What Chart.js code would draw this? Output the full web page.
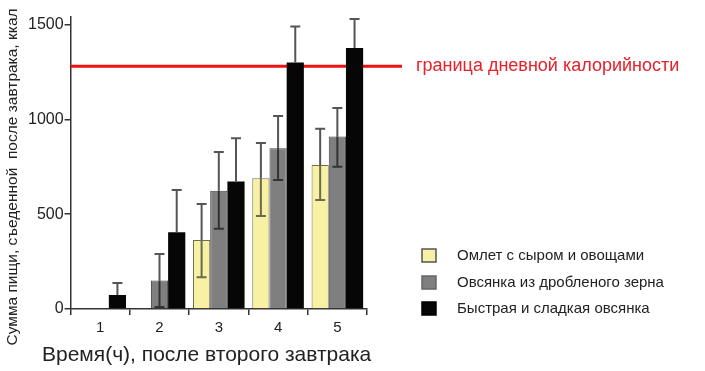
<!DOCTYPE html>
<html>
<head>
<meta charset="utf-8">
<script src="https://cdn.jsdelivr.net/npm/chart.js@4/dist/chart.umd.min.js"></script>
<style>
  body { margin: 0; background: #fff; }
  #wrap { width: 705px; height: 371px; }
</style>
</head>
<body>
<div id="wrap"><canvas id="myChart"></canvas></div>
<script>
// данные с картинки
const hours = ["1", "2", "3", "4", "5"];
const seriesNames = ["Омлет с сыром и овощами", "Овсянка из дробленого зерна", "Быстрая и сладкая овсянка"];

const omelet = [null, null, 364, 690, 760];
const oatsCoarse = [0, 150, 623, 848, 910];
const oatsSweet = [74, 405, 672, 1300, 1376];

// верх и низ планок погрешности
const omeletHigh = [null, null, 554, 875, 950];
const omeletLow = [null, null, 168, 490, 575];
const coarseHigh = [null, 290, 828, 1018, 1060];
const coarseLow = [null, 10, 423, 680, 750];
const sweetHigh = [137, 628, 900, 1490, 1530];
const sweetLow = [null, null, null, null, null];

const yTicks = [0, 500, 1000, 1500];
const dailyLimit = 1280;
const limitLabel = "граница дневной калорийности";
const xTitle = "Время(ч), после второго завтрака";
const yTitle = "Сумма пищи, съеденной  после завтрака, ккал";

const FONT = "'Liberation Sans', Arial, sans-serif";

const errHigh = [omeletHigh, coarseHigh, sweetHigh];
const errLow = [omeletLow, coarseLow, sweetLow];

// линия лимита + подпись
const limitPlugin = {
  id: "limit",
  beforeDatasetsDraw(chart) {
    const ctx = chart.ctx;
    const y = chart.scales.y.getPixelForValue(dailyLimit);
    ctx.save();
    ctx.strokeStyle = "#f01010";
    ctx.lineWidth = 3;
    ctx.beginPath();
    ctx.moveTo(chart.chartArea.left, y);
    ctx.lineTo(402, y);
    ctx.stroke();
    ctx.fillStyle = "#e8202a";
    ctx.font = "18px " + FONT;
    ctx.textBaseline = "middle";
    ctx.fillText(limitLabel, 416, y);
    ctx.restore();
  },
};

// планки погрешности
const errorPlugin = {
  id: "errors",
  afterDatasetsDraw(chart) {
    const ctx = chart.ctx;
    const yScale = chart.scales.y;
    ctx.save();
    chart.data.datasets.forEach((ds, i) => {
      const meta = chart.getDatasetMeta(i);
      meta.data.forEach((bar, j) => {
        const v = ds.data[j];
        if (v == null) return;
        const top = yScale.getPixelForValue(v);
        const hi = errHigh[i][j];
        const lo = errLow[i][j];
        ctx.lineWidth = 2;
        if (hi != null) {
          const yh = yScale.getPixelForValue(hi);
          ctx.strokeStyle = "#555";
          ctx.beginPath();
          ctx.moveTo(bar.x, top);
          ctx.lineTo(bar.x, yh);
          ctx.moveTo(bar.x - 5, yh);
          ctx.lineTo(bar.x + 5, yh);
          ctx.stroke();
        }
        if (lo != null) {
          const yl = yScale.getPixelForValue(lo);
          ctx.strokeStyle = i === 0 ? "#6b6b50" : "#333";
          ctx.beginPath();
          ctx.moveTo(bar.x, top);
          ctx.lineTo(bar.x, yl);
          ctx.moveTo(bar.x - 5, yl);
          ctx.lineTo(bar.x + 5, yl);
          ctx.stroke();
        }
      });
    });
    ctx.restore();
  },
};

// легенда справа и подписи осей (без сжатия maxWidth)
const legendPlugin = {
  id: "sideLegend",
  afterDraw(chart) {
    const ctx = chart.ctx;
    const rows = [256, 283, 309];
    ctx.save();
    ctx.font = "15px " + FONT;
    ctx.textBaseline = "middle";
    chart.data.datasets.forEach((ds, i) => {
      const y = rows[i];
      ctx.fillStyle = ds.backgroundColor;
      ctx.fillRect(422, y - 7, 14, 13);
      ctx.strokeStyle = ds.legendBorder;
      ctx.lineWidth = 1.5;
      ctx.strokeRect(422, y - 7, 14, 13);
      ctx.fillStyle = "#222";
      ctx.fillText(ds.label, 457, y);
    });

    ctx.fillStyle = "#222";
    ctx.font = "21px " + FONT;
    ctx.textAlign = "left";
    ctx.fillText(xTitle, 42, 355);

    ctx.translate(13, 177);
    ctx.rotate(-Math.PI / 2);
    ctx.font = "15.5px " + FONT;
    ctx.textAlign = "center";
    ctx.fillText(yTitle, 0, 0);
    ctx.restore();
  },
};

const ctx = document.getElementById("myChart").getContext("2d");

new Chart(ctx, {
  type: "bar",
  data: {
    labels: hours,
    datasets: [
      { label: seriesNames[0], data: omelet, backgroundColor: "#f8f1a4", borderColor: "#6e6e4e", borderWidth: 1, legendBorder: "#555" },
      { label: seriesNames[1], data: oatsCoarse, backgroundColor: "#7f7f7f", borderColor: "#444", borderWidth: 1, legendBorder: "#666" },
      { label: seriesNames[2], data: oatsSweet, backgroundColor: "#060606", borderColor: "#000", borderWidth: 0, legendBorder: "#000" },
    ],
  },
  options: {
    responsive: true,
    maintainAspectRatio: false,
    animation: false,
    layout: { padding: { left: 27, right: 338, top: 17, bottom: 30 } },
    datasets: { bar: { categoryPercentage: 0.87, barPercentage: 1.0 } },
    plugins: {
      legend: { display: false },
      tooltip: { enabled: false },
    },
    scales: {
      x: {
        grid: { display: true, drawOnChartArea: false, drawTicks: true, tickLength: 6, color: "#333", lineWidth: 1.5 },
        border: { color: "#333", width: 1.5 },
        ticks: { color: "#222", font: { family: FONT, size: 15 }, padding: 4 },
      },
      y: {
        min: 0,
        max: 1540,
        afterBuildTicks(scale) {
          scale.ticks = yTicks.map((v) => ({ value: v }));
        },
        grid: { display: true, drawOnChartArea: false, drawTicks: true, tickLength: 6, color: "#333", lineWidth: 1.5 },
        border: { color: "#333", width: 1.5 },
        ticks: { color: "#222", font: { family: FONT, size: 16 }, padding: 1, callback: (v) => String(v) },
      },
    },
  },
  plugins: [limitPlugin, errorPlugin, legendPlugin],
});
</script>
</body>
</html>
